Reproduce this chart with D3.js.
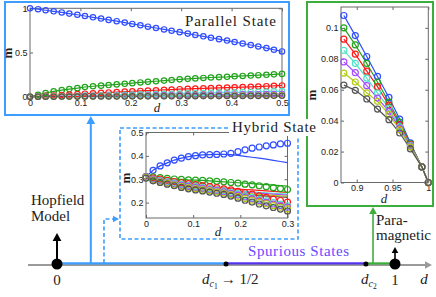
<!DOCTYPE html>
<html>
<head>
<meta charset="utf-8">
<script src="https://cdn.jsdelivr.net/npm/d3@7"></script>
<style>
body { margin: 0; background: #fff; }
svg { display: block; }
.tick text { font-family: "Liberation Sans", Arial, sans-serif; font-size: 9px; fill: #222; }
.tick line { stroke: #666; }
.frame { fill: none; stroke: #6a6a6a; stroke-width: 1; }
.serif { font-family: "Liberation Serif", "Times New Roman", serif; fill: #222; }
</style>
</head>
<body>
<div id="container"></div>
<script>
//Phase diagram with three inset panels (parallel, hybrid, paramagnetic states)

// ---- Parallel state panel ----
var parD = [0, 0.016, 0.031, 0.047, 0.063, 0.078, 0.094, 0.109, 0.125, 0.141, 0.156, 0.172, 0.188, 0.203, 0.219, 0.234,
    0.25, 0.266, 0.281, 0.297, 0.313, 0.328, 0.344, 0.359, 0.375, 0.391, 0.406, 0.422, 0.438, 0.453, 0.469, 0.484, 0.5];
var parBlue = [1.000, .990, .978, .966, .953, .940, .927, .913, .898, .884, .869, .854, .838, .823, .808, .792,
    .777, .761, .746, .730, .714, .698, .683, .667, .651, .635, .619, .602, .585, .568, .550, .531, .512];
var parGreen = [0, .022, .042, .060, .074, .086, .097, .110, .118, .125, .132, .139, .146, .153, .161, .168,
    .175, .182, .189, .196, .202, .207, .212, .217, .221, .225, .231, .235, .239, .243, .248, .253, .258];
var parRed = [0, .004, .009, .014, .019, .024, .029, .034, .038, .043, .048, .052, .057, .061, .065, .069,
    .073, .077, .081, .085, .088, .091, .094, .097, .100, .103, .106, .109, .112, .115, .119, .123, .127];
var parCyan = [0, .001, .002, .004, .006, .008, .010, .012, .014, .016, .018, .020, .022, .024, .026, .028,
    .030, .032, .034, .036, .038, .040, .042, .044, .046, .048, .050, .052, .054, .056, .058, .061, .064];
var parPurple = [0, 0, .001, .002, .003, .004, .005, .006, .007, .008, .009, .010, .011, .012, .013, .014,
    .015, .016, .017, .018, .019, .020, .021, .022, .023, .024, .025, .026, .027, .028, .029, .030, .031];
var parYellow = [0, 0, 0, .001, .001, .002, .002, .003, .003, .004, .004, .005, .005, .006, .006, .007,
    .007, .008, .008, .009, .009, .010, .010, .011, .011, .012, .012, .013, .013, .014, .014, .015, .015];
var parGray = [0, 0, 0, 0, .001, .001, .001, .002, .002, .002, .003, .003, .003, .004, .004, .004,
    .005, .005, .005, .006, .006, .006, .007, .007, .007, .008, .008, .008, .009, .009, .009, .010, .010];
var parXTicks = [0, 0.1, 0.2, 0.3, 0.4, 0.5];
var parYTicks = [0, 0.5, 1];

// ---- Hybrid state panel (circles = simulation, lines = theory) ----
var hybD = [0, 0.015, 0.03, 0.045, 0.06, 0.075, 0.09, 0.105, 0.12, 0.135, 0.15,
    0.165, 0.18, 0.195, 0.21, 0.225, 0.24, 0.255, 0.27, 0.285, 0.3];
var hybBlue = [.311, .338, .357, .370, .382, .390, .397, .401, .404, .405, .406, .408, .411, .418, .426, .433, .438, .443, .447, .451, .454];
var hybGreen = [.311, .310, .307, .304, .301, .299, .297, .296, .295, .293, .291, .289, .286, .283, .279, .276, .272, .268, .264, .260, .256];
var hybRed = [.311, .305, .300, .295, .290, .285, .281, .277, .273, .268, .264, .259, .254, .248, .242, .236, .229, .222, .215, .209, .202];
var hybCyan = [.310, .301, .295, .290, .284, .278, .273, .269, .265, .260, .255, .250, .244, .237, .229, .222, .214, .207, .200, .193, .186];
var hybPurple = [.309, .299, .292, .286, .280, .274, .269, .265, .261, .256, .251, .246, .239, .232, .224, .216, .209, .201, .194, .187, .180];
var hybYellow = [.307, .296, .289, .283, .276, .270, .264, .260, .256, .251, .246, .241, .234, .226, .218, .210, .202, .195, .187, .180, .173];
var hybGray = [.305, .293, .286, .279, .272, .265, .259, .254, .250, .245, .240, .235, .228, .219, .210, .202, .194, .186, .179, .172, .164];
var hybBlueLine = [.311, .338, .357, .370, .382, .390, .397, .401, .404, .405, .406, .406, .405, .402, .398, .394, .390, .386, .381, .376, .371];
var hybGreenLine = [.311, .310, .307, .304, .301, .299, .297, .296, .295, .293, .291, .289, .287, .285, .283, .281, .279, .277, .275, .273, .271];
var hybRedLine = [.311, .305, .300, .295, .290, .285, .281, .277, .273, .269, .266, .263, .260, .258, .256, .254, .252, .250, .248, .246, .244];
var hybCyanLine = [.310, .301, .295, .290, .284, .278, .273, .269, .265, .261, .258, .255, .252, .250, .248, .246, .244, .242, .240, .238, .236];
var hybPurpleLine = [.309, .299, .292, .286, .280, .274, .269, .265, .261, .257, .254, .251, .248, .246, .244, .242, .240, .238, .236, .234, .232];
var hybYellowLine = [.307, .296, .289, .283, .276, .270, .264, .260, .256, .252, .249, .246, .243, .241, .239, .237, .235, .233, .231, .229, .228];
var hybGrayLine = [.305, .293, .286, .279, .272, .265, .259, .254, .250, .246, .243, .240, .238, .236, .234, .232, .230, .228, .226, .224, .222];
var hybXTicks = [0, 0.1, 0.2, 0.3];
var hybYTicks = [0.2, 0.3, 0.4, 0.5];

// ---- Paramagnetic panel ----
var parmD = [0.882, 0.898, 0.914, 0.929, 0.945, 0.960, 0.975, 0.991, 1.0];
var parmBlue = [.108, .095, .0815, .0686, .055, .041, .0256, .0101, 0];
var parmGreen = [.100, .089, .077, .065, .052, .039, .025, .0101, 0];
var parmRed = [.0927, .083, .072, .062, .050, .0375, .0245, .0101, 0];
var parmCyan = [.0854, .077, .0675, .058, .048, .036, .024, .0101, 0];
var parmPurple = [.078, .071, .0626, .0546, .046, .035, .0235, .0101, 0];
var parmYellow = [.0708, .065, .058, .0525, .044, .034, .023, .0101, 0];
var parmGray = [.063, .0596, .054, .0475, .0406, .032, .0217, .0101, 0];
var parmXTicks = [0.9, 0.95, 1];
var parmYTicks = [0, 0.02, 0.04, 0.06, 0.08, 0.1];

// ---- phase line (d axis) ----
var phaseD = [0, 0.5, 0.914, 1];          // 0, d_c1, d_c2, 1
var phaseLabels = ["0", "", "", "1"];

var colors = ["#2f4dff", "#22a31c", "#ff1a1a", "#52e3c6", "#a64dff", "#b4cc14", "#555555"];
var lightBlue = "#3d9eff", darkGreen = "#3cae3c", violet = "#5533ee";

var width = 436, height = 297;
var svg = d3.select("#container").append("svg")
    .attr("width", width)
    .attr("height", height);

//phase axis scale: d = 0 .. 1
var sx = d3.scaleLinear().domain([0, 1]).range([57, 395]);
var axisY = 264;

//function to draw a small filled arrow head
function arrowHead(g, x, y, dir, size, color){
    var w = size * 0.55, p;
    if (dir === "up") p = [[x, y], [x - w, y + size], [x + w, y + size]];
    else p = [[x, y], [x - size, y - w], [x - size, y + w]];
    g.append("path").attr("d", "M" + p.join("L") + "Z").attr("fill", color);
}

//function to draw an inset panel
function drawPanel(cfg){
    var x = d3.scaleLinear().domain(cfg.xDomain).range(cfg.xRange);
    var y = d3.scaleLinear().domain(cfg.yDomain).range(cfg.yRange);
    var fmt = d3.format("~g");
    var g = svg.append("g");

    g.append("g").attr("transform", "translate(0," + cfg.yRange[0] + ")")
        .call(d3.axisBottom(x).tickValues(cfg.xTicks).tickSize(-3).tickPadding(2.5).tickFormat(fmt));
    g.append("g").attr("transform", "translate(0," + cfg.yRange[1] + ")")
        .call(d3.axisTop(x).tickValues(cfg.xTicks).tickSize(-3).tickFormat(""));
    g.append("g").attr("transform", "translate(" + cfg.xRange[0] + ",0)")
        .call(d3.axisLeft(y).tickValues(cfg.yTicks).tickSize(-3).tickPadding(2.5).tickFormat(fmt));
    g.append("g").attr("transform", "translate(" + cfg.xRange[1] + ",0)")
        .call(d3.axisRight(y).tickValues(cfg.yTicks).tickSize(-3).tickFormat(""));
    g.selectAll(".domain").remove();

    g.append("rect").attr("class", "frame")
        .attr("x", cfg.xRange[0]).attr("y", cfg.yRange[1])
        .attr("width", cfg.xRange[1] - cfg.xRange[0])
        .attr("height", cfg.yRange[0] - cfg.yRange[1]);

    var line = d3.line()
        .x(function(v, i){ return x(cfg.d[i]); })
        .y(function(v){ return y(v); });

    cfg.lines.forEach(function(vals, k){
        g.append("path").datum(vals)
            .attr("d", line)
            .attr("fill", "none")
            .attr("stroke", colors[k])
            .attr("stroke-width", 1.2);
    });
    cfg.circles.forEach(function(vals, k){
        g.selectAll(".c" + k)
            .data(vals)
            .enter()
            .append("circle")
            .attr("class", "c" + k)
            .attr("cx", function(v, i){ return x(cfg.d[i]); })
            .attr("cy", function(v){ return y(v); })
            .attr("r", cfg.r)
            .attr("fill", "none")
            .attr("stroke", colors[k])
            .attr("stroke-width", 1.2);
    });

    //axis titles
    g.append("text").attr("class", "serif")
        .attr("transform", "translate(" + cfg.mPos[0] + "," + cfg.mPos[1] + ") rotate(-90)")
        .attr("text-anchor", "middle")
        .attr("dy", "0.25em")
        .style("font-size", "13px")
        .style("font-weight", "bold")
        .text("m");
    g.append("text").attr("class", "serif")
        .attr("x", cfg.dPos[0]).attr("y", cfg.dPos[1])
        .attr("text-anchor", "middle")
        .style("font-size", "13px")
        .style("font-style", "italic")
        .text("d");
    return g;
}

// ---- phase line and connectors ----
var base = svg.append("g");
base.append("line")
    .attr("x1", 28).attr("x2", 426).attr("y1", axisY + 1).attr("y2", axisY + 1)
    .attr("stroke", "#9a9a9a").attr("stroke-width", 2);
arrowHead(base, 432, axisY + 1, "right", 7, "#9a9a9a");

var segColors = [lightBlue, violet, darkGreen];
for (var s = 0; s < 3; s++){
    base.append("line")
        .attr("x1", sx(phaseD[s])).attr("x2", sx(phaseD[s + 1]))
        .attr("y1", axisY - 0.6).attr("y2", axisY - 0.6)
        .attr("stroke", segColors[s]).attr("stroke-width", 2.2);
}

//connector to parallel panel
base.append("line")
    .attr("x1", sx(0.1)).attr("x2", sx(0.1))
    .attr("y1", axisY - 1).attr("y2", 123)
    .attr("stroke", lightBlue).attr("stroke-width", 2);
arrowHead(base, sx(0.1), 116, "up", 8, lightBlue);

//dashed connector to hybrid panel
base.append("path")
    .attr("d", "M" + sx(0.139) + "," + (axisY - 1) + "V219H113")
    .attr("fill", "none")
    .attr("stroke", lightBlue).attr("stroke-width", 1.6)
    .attr("stroke-dasharray", "4,2.5");
arrowHead(base, 119, 219, "right", 6, lightBlue);

//connector to paramagnetic panel
base.append("line")
    .attr("x1", sx(0.935)).attr("x2", sx(0.935))
    .attr("y1", axisY - 1).attr("y2", 213)
    .attr("stroke", darkGreen).attr("stroke-width", 1.6);
arrowHead(base, sx(0.935), 207, "up", 7, darkGreen);

//black arrows at 0 and 1
base.append("line").attr("x1", sx(0)).attr("x2", sx(0)).attr("y1", axisY).attr("y2", 240)
    .attr("stroke", "#000").attr("stroke-width", 2);
arrowHead(base, sx(0), 233, "up", 8, "#000");
base.append("line").attr("x1", sx(1)).attr("x2", sx(1)).attr("y1", axisY).attr("y2", 253)
    .attr("stroke", "#000").attr("stroke-width", 1.6);
arrowHead(base, sx(1), 247, "up", 6, "#000");

//points on the phase line
base.selectAll(".pt")
    .data(phaseD)
    .enter()
    .append("circle")
    .attr("class", "pt")
    .attr("cx", function(d){ return sx(d); })
    .attr("cy", axisY)
    .attr("r", function(d, i){ return (i === 0 || i === 3) ? 5.5 : 2.5; })
    .attr("fill", "#000");

base.selectAll(".ptLabel")
    .data(phaseLabels)
    .enter()
    .append("text")
    .attr("class", "serif")
    .attr("x", function(d, i){ return sx(phaseD[i]); })
    .attr("y", 285)
    .attr("text-anchor", "middle")
    .style("font-size", "15px")
    .text(function(d){ return d; });

//d_c1 -> 1/2
var dc1 = base.append("text").attr("class", "serif")
    .attr("x", 202).attr("y", 284)
    .style("font-size", "15px");
dc1.append("tspan").style("font-style", "italic").text("d");
dc1.append("tspan").style("font-style", "italic").style("font-size", "10px").attr("dy", 3).text("c");
dc1.append("tspan").style("font-size", "7.5px").attr("dy", 1.5).text("1");
dc1.append("tspan").attr("dy", -4.5).attr("dx", 3).text("\u2192 1/2");

var dc2 = base.append("text").attr("class", "serif")
    .attr("x", 361).attr("y", 284)
    .style("font-size", "15px");
dc2.append("tspan").style("font-style", "italic").text("d");
dc2.append("tspan").style("font-style", "italic").style("font-size", "10px").attr("dy", 3).text("c");
dc2.append("tspan").style("font-size", "7.5px").attr("dy", 1.5).text("2");

base.append("text").attr("class", "serif")
    .attr("x", 424).attr("y", 284)
    .attr("text-anchor", "middle")
    .style("font-size", "15px").style("font-style", "italic")
    .text("d");

base.append("text").attr("class", "serif")
    .attr("x", 248).attr("y", 256)
    .attr("textLength", 101)
    .style("font-size", "15px").style("fill", "#6a48ff")
    .text("Spurious States");

[["Hopfield", 31, 205], ["Model", 31, 221], ["Para-", 376, 225], ["magnetic", 376, 240]].forEach(function(t){
    base.append("text").attr("class", "serif")
        .attr("x", t[1]).attr("y", t[2])
        .style("font-size", "15px")
        .text(t[0]);
});

// ---- panel boxes ----
svg.append("rect")
    .attr("x", 5).attr("y", 2).attr("width", 284).attr("height", 113)
    .attr("fill", "#fff").attr("stroke", lightBlue).attr("stroke-width", 2);
svg.append("rect")
    .attr("x", 120).attr("y", 128).attr("width", 178).attr("height", 111)
    .attr("fill", "#fff").attr("stroke", lightBlue).attr("stroke-width", 1.6)
    .attr("stroke-dasharray", "4,2.5");
svg.append("rect")
    .attr("x", 307).attr("y", 2).attr("width", 126).attr("height", 204)
    .attr("fill", "#fff").attr("stroke", darkGreen).attr("stroke-width", 2);

// ---- panels ----
drawPanel({
    xDomain: [0, 0.5], xRange: [30, 282],
    yDomain: [0, 1], yRange: [96.7, 8.3],
    xTicks: parXTicks, yTicks: parYTicks,
    d: parD, r: 2.7,
    circles: [parBlue, parGreen, parRed, parCyan, parPurple, parYellow, parGray],
    lines: [parBlue, parGreen, parRed, parCyan, parPurple, parYellow, parGray],
    mPos: [9, 53], dPos: [157, 112]
});
svg.append("text").attr("class", "serif")
    .attr("x", 185).attr("y", 26)
    .attr("textLength", 91)
    .style("font-size", "15px")
    .text("Parallel State");

drawPanel({
    xDomain: [0, 0.3], xRange: [146, 287.5],
    yDomain: [0.134, 0.5], yRange: [218, 132.5],
    xTicks: hybXTicks, yTicks: hybYTicks,
    d: hybD, r: 3,
    circles: [hybBlue, hybGreen, hybRed, hybCyan, hybPurple, hybYellow, hybGray],
    lines: [hybBlueLine, hybGreenLine, hybRedLine, hybCyanLine, hybPurpleLine, hybYellowLine, hybGrayLine],
    mPos: [127, 178], dPos: [218, 236]
});

drawPanel({
    xDomain: [0.878, 1], xRange: [341, 428.3],
    yDomain: [0, 0.1135], yRange: [182.5, 7],
    xTicks: parmXTicks, yTicks: parmYTicks,
    d: parmD, r: 3,
    circles: [parmBlue, parmGreen, parmRed, parmCyan, parmPurple, parmYellow, parmGray],
    lines: [parmBlue, parmGreen, parmRed, parmCyan, parmPurple, parmYellow, parmGray],
    mPos: [313, 95], dPos: [384, 203]
});

//hybrid label sits on top of the boxes
svg.append("rect").attr("x", 229).attr("y", 119).attr("width", 90).attr("height", 17).attr("fill", "#fff");
svg.append("text").attr("class", "serif")
    .attr("x", 232).attr("y", 132)
    .attr("textLength", 84)
    .style("font-size", "15px")
    .text("Hybrid State");
</script>
</body>
</html>
